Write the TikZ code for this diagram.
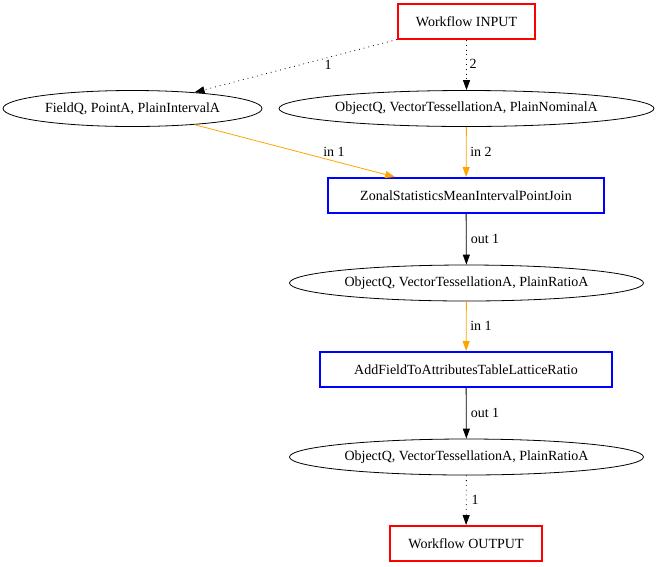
\documentclass[tikz,border=0pt]{standalone}
\usepackage{fontspec}
\setmainfont{Liberation Serif}
\usetikzlibrary{shapes.geometric,arrows.meta}
\definecolor{edgeorange}{RGB}{255,165,0}

\begin{document}
\begin{tikzpicture}[x=1pt,y=-1pt,
	    font=\fontsize{14}{16}\selectfont,
	    >={Triangle[length=10pt,width=7pt]},
	    iobox/.style={draw=red,line width=2pt,rectangle,minimum height=35pt,inner sep=0pt},
	    opbox/.style={draw=blue,line width=2pt,rectangle,minimum height=35pt,inner sep=0pt},
	    dtype/.style={draw,ellipse,line width=0.8pt,minimum height=36pt,inner sep=0pt},
	    lbl/.style={inner sep=0pt},
	    flow/.style={->,line width=0.8pt},
	    ioflow/.style={flow,dash pattern=on 0.8pt off 4pt},
	    inflow/.style={flow,draw=edgeorange}]
	    \useasboundingbox (0,0) rectangle (658,566);

	    \node[iobox,minimum width=137pt] (inp) at (466.5,21.5) {Workflow INPUT};
	    \node[dtype,minimum width=259pt] (fq) at (132.5,108.5) {FieldQ, PointA, PlainIntervalA};
	    \node[dtype,minimum width=375pt] (oq) at (466.5,108.5) {ObjectQ, VectorTessellationA, PlainNominalA};
	    \node[opbox,minimum width=276pt] (zonal) at (466,195.5) {ZonalStatisticsMeanIntervalPointJoin};
	    \node[dtype,minimum width=354pt] (ratio) at (466.5,283) {ObjectQ, VectorTessellationA, PlainRatioA};
	    \node[opbox,minimum width=292pt] (addf) at (466,369.5) {AddFieldToAttributesTableLatticeRatio};
	    \node[dtype,minimum width=354pt] (res) at (466.5,457) {ObjectQ, VectorTessellationA, PlainRatioA};
	    \node[iobox,minimum width=152pt] (outp) at (466,543.5) {Workflow OUTPUT};

	    \draw[ioflow] (inp) -- (fq);
	    \draw[ioflow] (inp) -- (oq);
	    \draw[inflow] (fq) -- (zonal);
	    \draw[inflow] (oq) -- (zonal);
	    \draw[flow] (zonal) -- (ratio);
	    \draw[inflow] (ratio) -- (addf);
	    \draw[flow] (addf) -- (res);
	    \draw[ioflow] (res) -- (outp);

	    \node[lbl] (l1) at (328,65) {1};
	    \node[lbl] (l2) at (473,64) {2};
	    \node[lbl] (lin1) at (334,152) {in 1};
	    \node[lbl] (lin2) at (481,152) {in 2};
	    \node[lbl] (lout1) at (485,239) {out 1};
	    \node[lbl] (lin3) at (481,326) {in 1};
	    \node[lbl] (lout2) at (485,413) {out 1};
	    \node[lbl] (l3) at (475,500) {1};
\end{tikzpicture}
\end{document}
